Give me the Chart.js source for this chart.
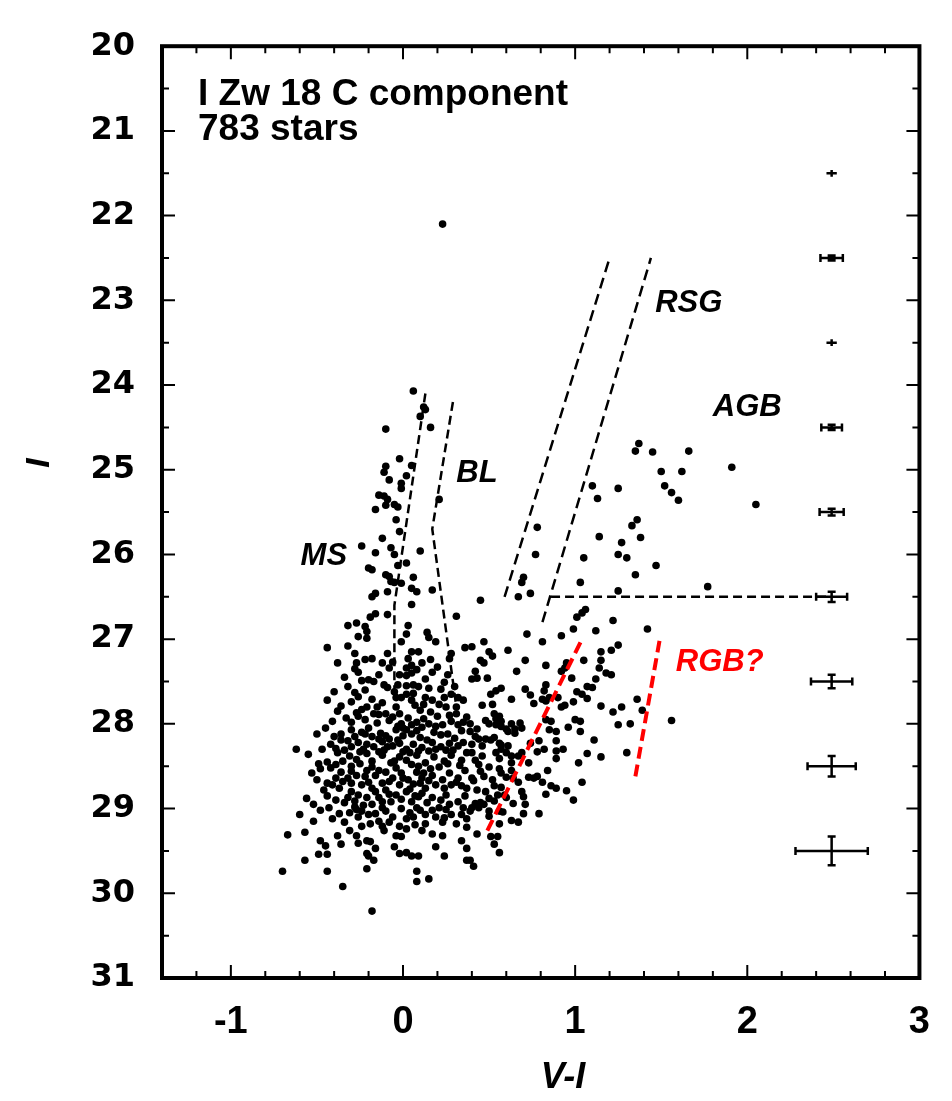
<!DOCTYPE html>
<html>
<head>
<meta charset="utf-8">
<script src="https://cdn.jsdelivr.net/npm/chart.js@4.4.0/dist/chart.umd.min.js"></script>
<style>
html, body { margin: 0; padding: 0; background: #fff; }
</style>
</head>
<body>
<canvas id="cmd" width="952" height="1101"></canvas>
<script>
const xTicks = [-1, 0, 1, 2, 3];
const yTicks = [20, 21, 22, 23, 24, 25, 26, 27, 28, 29, 30, 31];

// stars, [V-I, I]
const msStars = [
  [0.23,22.10],[0.06,24.07],[0.12,24.26],[0.13,24.29],[0.10,24.37],[0.16,24.50],[-0.10,24.52],
  [-0.02,24.87],[0.05,24.95],[-0.10,24.96],[-0.11,25.03],[0.02,25.07],[-0.08,25.12],[-0.01,25.16],
  [-0.01,25.22],[-0.14,25.30],[-0.11,25.31],[-0.09,25.35],[-0.10,25.42],[-0.05,25.41],[-0.03,25.44],
  [-0.16,25.47],[0.21,25.35],[-0.04,25.59],[-0.02,25.73],[-0.12,25.81],[-0.24,25.90],[-0.07,25.92],
  [0.10,25.96],[-0.16,25.98],[-0.05,26.00],[0.02,26.10],[-0.03,26.13],[-0.20,26.16],[-0.18,26.18],
  [-0.10,26.24],[-0.08,26.26],[0.06,26.27],[-0.07,26.32],[-0.05,26.33],[-0.01,26.34],[0.05,26.40],
  [0.17,26.42],[0.08,26.44],[-0.09,26.44],[-0.16,26.46],[-0.18,26.50],[0.45,26.54]
];

const agbStars = [
  [1.37,24.69],[1.35,24.78],[1.45,24.79],[1.66,24.78],[1.50,25.02],[1.62,25.02],[1.91,24.97],
  [1.10,25.19],[1.52,25.19],[1.25,25.22],[1.56,25.27],[1.13,25.34],[1.60,25.36],[2.05,25.41],
  [1.36,25.59],[1.33,25.66],[0.78,25.68],[1.14,25.79],[1.38,25.80],[1.27,25.86],[0.77,26.00],
  [1.25,26.00],[1.05,26.04],[1.30,26.04],[1.47,26.13],[1.35,26.24],[0.70,26.27],[0.69,26.33],
  [1.03,26.33],[1.77,26.38],[1.25,26.43],[0.74,26.46],[0.67,26.50]
];

const wingStars = [
  [1.06,26.65],[1.04,26.69],[1.01,26.74],[1.22,26.78],[0.99,26.88],[1.12,26.90],[1.42,26.88],
  [0.72,26.94],[0.92,26.96],[0.81,27.03],[0.47,27.03],[0.40,27.09],[0.61,27.13],[0.50,27.15],
  [0.52,27.20],[1.15,27.15],[1.21,27.13],[1.25,27.07],[1.05,27.25],[1.15,27.25],[0.71,27.25],
  [0.45,27.25],[0.47,27.28],[0.83,27.31],[0.95,27.28],[0.94,27.34],[0.92,27.38],[1.14,27.34],
  [1.18,27.40],[1.21,27.42],[0.66,27.38],[0.42,27.38],[0.43,27.46],[0.40,27.47],[0.49,27.46],
  [0.98,27.46],[1.12,27.47],[0.83,27.54],[0.82,27.61],[0.57,27.58],[0.54,27.61],[1.07,27.56],
  [1.10,27.57],[1.01,27.62],[1.04,27.65],[1.07,27.70],[0.71,27.59],[0.74,27.66],[0.51,27.65],
  [0.63,27.71],[0.76,27.76],[0.81,27.71],[0.85,27.69],[0.83,27.73],[0.90,27.69],[0.92,27.80],
  [0.94,27.78],[0.99,27.74],[0.46,27.78],[0.52,27.77],[1.15,27.79],[1.27,27.80],[1.22,27.86],
  [1.36,27.71],[1.39,27.84],[1.56,27.96],[1.25,28.01],[1.32,28.00],[1.11,28.19],[0.89,28.20],
  [0.79,28.20],[0.74,28.23],[1.02,28.46],[1.07,28.35],[1.15,28.39],[1.30,28.34],
  [0.53,27.88],[0.54,27.94],[0.56,27.91],[0.57,27.97],[0.54,28.01],[0.57,28.03],[0.60,28.06],
  [0.50,28.00],[0.48,27.96],[0.43,28.06],[0.39,28.00],[0.39,28.09],[0.63,28.00],[0.65,28.06],
  [0.68,27.99],[0.69,28.05],[0.65,28.11],[0.61,28.09],[0.83,27.95],[0.86,27.97],[0.85,28.07],
  [0.89,28.09],[0.96,28.04],[1.00,27.95],[1.03,27.97],[1.03,28.09],
  [0.42,28.15],[0.44,28.18],[0.48,28.18],[0.51,28.19],[0.53,28.16],[0.40,28.24],[0.46,28.26],
  [0.56,28.23],[0.57,28.25],[0.61,28.26],[0.57,28.30],[0.60,28.34],[0.54,28.34],[0.56,28.41],
  [0.46,28.38],[0.40,28.34],[0.42,28.43],[0.63,28.38],[0.63,28.46],[0.82,28.30],[0.78,28.33],
  [0.69,28.34],[0.67,28.38],[0.89,28.32],[0.93,28.30],[0.89,28.41],[0.73,28.46],
  [0.45,28.56],[0.40,28.64],[0.41,28.67],[0.56,28.53],[0.57,28.58],[0.63,28.55],[0.60,28.63],
  [0.64,28.64],[0.67,28.69],[0.73,28.63],[0.76,28.64],[0.78,28.62],[0.81,28.69],[0.84,28.55],
  [1.04,28.69],[0.86,28.73],[0.89,28.76],[0.95,28.79],[0.83,28.83],[0.99,28.90],[0.53,28.73],
  [0.57,28.75],[0.59,28.84],[0.60,28.87],[0.69,28.80],[0.70,28.86],[0.53,28.91],[0.42,28.94],
  [0.45,28.93],[0.47,28.95],[0.40,28.99],[0.44,28.99],[0.39,29.03],[0.64,28.94],[0.71,28.95],
  [0.50,29.03],[0.56,29.03],[0.58,29.04],[0.70,29.06],[0.79,29.06],[0.50,29.09],[0.56,29.18],
  [0.63,29.14],[0.67,29.16],[0.43,29.30],[0.51,29.33],[0.55,29.33],[0.53,29.42],[0.56,29.52],
  [0.39,29.61],[0.41,29.68],
  [0.44,28.48],[0.50,28.51],[0.47,28.62],[0.52,28.66],[0.48,28.80],[0.43,28.78],[0.55,28.84],
  [0.50,28.88]
];

const coreStars = [
  [0.05,26.59],[0.31,26.73],[-0.16,26.70],[-0.19,26.74],[-0.09,26.71],[-0.32,26.84],[-0.27,26.81],
  [-0.22,26.85],[-0.26,26.97],[-0.21,26.99],[-0.21,26.91],[0.03,26.84],[0.02,26.94],[-0.01,27.03],
  [0.14,26.92],[0.15,26.98],[0.19,27.03],[-0.44,27.10],[-0.32,27.08],[-0.28,27.17],[-0.09,27.17],
  [0.05,27.15],[0.09,27.15],[-0.22,27.24],[-0.18,27.23],[-0.27,27.28],[-0.12,27.28],[0.03,27.23],
  [0.05,27.31],[0.02,27.34],[0.08,27.36],[0.05,27.40],[0.02,27.43],[-0.02,27.42],[0.16,27.24],
  [0.17,27.39],[0.28,27.17],[0.27,27.23],[-0.26,27.39],[-0.24,27.49],[-0.20,27.48],[-0.17,27.50],
  [-0.34,27.45],[-0.11,27.54],[-0.09,27.57],[-0.03,27.54],[0.02,27.55],[0.06,27.54],[0.09,27.56],
  [0.24,27.51],[0.22,27.59],[-0.40,27.62],[-0.28,27.63],[-0.26,27.68],[0.02,27.65],[0.05,27.72],
  [-0.01,27.69],[0.06,27.64],[0.13,27.69],[0.12,27.77],[0.17,27.72],[0.21,27.77],[0.24,27.69],
  [0.28,27.65],[0.32,27.69],[0.31,27.80],[0.35,27.72],[-0.18,27.71],[-0.15,27.80],[-0.17,27.88],
  [-0.14,27.89],[-0.10,27.88],[-0.21,27.80],[-0.27,27.87],[-0.24,27.83],[-0.04,27.69],[-0.04,27.80],
  [-0.06,27.92],[-0.02,27.88],[-0.01,28.00],[-0.03,28.03],[0.02,28.07],[0.36,27.10],
  [-0.12,27.75],[0.07,27.78],[-0.30,27.74],[-0.36,27.79],[-0.28,27.35],[-0.14,27.42],[-0.06,27.27],
  [0.13,27.47],[0.20,27.33],[0.26,27.42],[-0.38,27.28],[-0.38,27.85],[-0.33,27.93],[-0.45,28.05],
  [-0.36,28.12],
  [-0.30,28.07],[-0.24,28.10],[-0.20,28.05],[-0.18,28.15],[-0.13,28.11],[-0.08,28.18],[-0.04,28.07],
  [0.00,28.05],[0.05,28.01],[0.08,28.08],[0.11,28.04],[0.15,28.00],[0.19,28.03],[0.23,28.01],
  [0.28,27.97],[0.32,28.01],[0.37,27.92],[0.31,27.88],[0.25,27.80],
  [-0.42,28.24],[-0.39,28.29],[-0.62,28.30],[-0.30,28.27],[-0.26,28.22],[-0.21,28.24],[-0.17,28.27],
  [-0.12,28.21],[-0.06,28.26],[-0.02,28.23],[0.02,28.30],[0.06,28.24],[0.11,28.28],[0.17,28.22],
  [0.22,28.27],[0.27,28.23],[0.32,28.26],[0.37,28.34],
  [-0.31,28.38],[-0.27,28.42],[-0.21,28.35],[-0.18,28.44],[-0.12,28.37],[-0.07,28.46],[-0.02,28.39],
  [0.02,28.43],[0.08,28.37],[0.13,28.46],[0.18,28.39],[0.24,28.44],[0.28,28.37],[0.34,28.43],
  [-0.49,28.47],[-0.44,28.45],[-0.39,28.48],
  [-0.48,28.53],[-0.39,28.64],[-0.46,28.78],[-0.37,28.76],[-0.39,28.90],[-0.56,28.88],[-0.43,28.99],
  [-0.37,29.06],[-0.60,29.07],[-0.57,29.28],[-0.67,29.31],[-0.48,29.38],[-0.45,29.44],[-0.38,29.32],
  [-0.36,29.42],[-0.31,29.26],[-0.57,29.61],[-0.49,29.54],[-0.44,29.54],[-0.44,29.74],[-0.70,29.74],
  [-0.35,29.92],[-0.21,29.71],[-0.18,30.21],[0.08,29.74],[0.08,29.86],[0.15,29.83],[-0.27,29.32],
  [-0.26,29.41],[-0.21,29.38],[-0.19,29.39],[-0.16,29.47],[-0.21,29.53],[-0.20,29.56],[-0.17,29.61],
  [-0.05,29.45],[-0.02,29.53],[0.02,29.52],[0.05,29.56],[0.09,29.56],[0.19,29.45],[0.24,29.56],
  [0.34,29.38],[0.37,29.47],[0.37,29.61],
  [0.23,29.32],[0.17,29.30],[0.11,29.26],[0.13,29.18],[-0.01,29.33],[-0.04,29.32],[0.02,29.24],
  [-0.02,29.21],[-0.11,29.26],[-0.12,29.21],[-0.14,29.15],[-0.20,29.07],[-0.26,29.10],[-0.24,29.21],
  [-0.28,28.98],[-0.27,29.01],[-0.32,28.87],[-0.30,28.80],[-0.32,28.64],[-0.27,28.61],
  [-0.24,28.72],[-0.20,28.69],[-0.16,28.80],[-0.14,28.87],[-0.10,28.78],[-0.07,28.92],[-0.04,28.84],
  [-0.02,28.72],[0.02,28.80],[0.05,28.92],[0.08,28.99],[0.09,28.86],[0.13,28.76],[0.17,28.87],
  [0.21,28.99],[0.25,28.84],[0.28,28.72],[0.32,28.92],[0.34,29.07],[0.28,29.07],[0.31,29.18],
  [0.37,29.22],[0.19,29.10],[0.13,29.07],[0.06,29.10],[0.02,29.12],[-0.06,29.10],[-0.10,29.03],
  [-0.18,28.95],[-0.21,28.87],[-0.21,28.55],[-0.16,28.61],[-0.10,28.57],[-0.06,28.64],[-0.01,28.58],
  [0.03,28.66],[0.08,28.57],[0.11,28.64],[0.17,28.61],[0.23,28.66],[0.27,28.58],[0.32,28.64],
  [0.37,28.76],[-0.36,28.57],
  [-0.22,27.95],[-0.08,27.96],[0.03,27.93],[0.12,27.94],[0.20,27.91],[-0.30,27.98],
  [-0.28,28.15],[-0.14,28.18],[0.00,28.14],[0.10,28.16],[0.22,28.13],[0.30,28.17],[-0.36,28.19],
  [-0.25,28.33],[-0.11,28.31],[0.04,28.34],[0.15,28.32],[0.25,28.31],[-0.38,28.34],
  [-0.30,28.50],[-0.18,28.51],[-0.04,28.52],[0.09,28.50],[0.21,28.51],[0.33,28.49],[-0.42,28.52],
  [-0.30,28.70],[-0.12,28.70],[0.06,28.71],[0.19,28.72],[0.31,28.69],[-0.44,28.70],
  [-0.26,28.84],[-0.08,28.83],[0.11,28.82],[0.22,28.90],[-0.34,28.93],[0.36,28.85],
  [-0.24,29.03],[-0.12,28.99],[-0.01,29.00],[0.10,29.02],[0.25,29.01],[-0.48,29.02],
  [-0.34,29.16],[-0.19,29.18],[0.07,29.19],[0.23,29.16],[-0.08,29.16],
  [-0.41,27.97],[-0.26,27.91],[-0.15,27.99],[0.08,27.98],[0.16,27.86],[0.27,27.90],[0.35,27.98],
  [-0.50,28.12],[-0.40,28.15],[-0.32,28.20],[-0.22,28.12],[-0.10,28.14],[-0.03,28.19],[0.05,28.12],
  [0.14,28.19],[0.18,28.10],[0.26,28.12],[0.34,28.08],
  [-0.55,28.36],[-0.47,28.30],[-0.34,28.31],[-0.23,28.30],[-0.14,28.33],[-0.09,28.27],[0.00,28.33],
  [0.09,28.32],[0.19,28.30],[0.29,28.31],[0.35,28.22],
  [-0.53,28.58],[-0.35,28.44],[-0.25,28.47],[-0.14,28.55],[-0.05,28.44],[0.05,28.48],[0.16,28.53],
  [0.26,28.47],[0.36,28.55],[-0.30,28.56],[0.12,28.58],
  [-0.50,28.66],[-0.41,28.72],[-0.35,28.68],[-0.22,28.62],[-0.08,28.68],[0.00,28.64],[0.10,28.70],
  [0.15,28.67],[0.24,28.76],[0.34,28.73],[-0.18,28.76],[0.04,28.77],
  [-0.52,28.95],[-0.44,28.85],[-0.28,28.91],[-0.12,28.92],[-0.01,28.89],[0.14,28.93],[0.27,28.95],
  [0.35,28.99],[-0.23,28.96],[0.07,28.85],
  [-0.41,29.12],[-0.31,29.05],[-0.16,29.06],[0.04,29.05],[0.17,29.02],[0.24,29.11],[0.37,29.12],
  [-0.52,29.15],
  [-0.32,27.56],[-0.22,27.60],[-0.05,27.62],[0.15,27.58],[0.30,27.56],[-0.44,27.72],[0.10,27.84],
  [-0.08,27.34],[0.11,27.28]
];

// boundary lines
const msLine = [[0.13,24.1],[-0.05,26.6],[-0.05,27.7]];
const blLine = [[0.29,24.2],[0.17,25.7],[0.31,27.8]];
const rsgLeft = [[0.59,26.5],[1.20,22.5]];
const rsgRight = [[0.81,26.8],[1.44,22.5]];
const tipLine = [[0.86,26.5],[2.49,26.5]];
const rgbLeft = [[0.49,29.26],[1.04,27.0]];
const rgbRight = [[1.35,28.62],[1.49,27.02]];

// typical errors
const errMag = [21.5, 22.5, 23.5, 24.5, 25.5, 26.5, 27.5, 28.5, 29.5];
const errColor = [0.03, 0.065, 0.03, 0.06, 0.07, 0.09, 0.12, 0.14, 0.21];
const errI = [0.04, 0.03, 0.04, 0.03, 0.04, 0.06, 0.08, 0.12, 0.17];
const errAt = 2.49;

const labels = [
  {text: 'MS', x: -0.46, y: 26.02, color: '#000'},
  {text: 'BL', x: 0.43, y: 25.04, color: '#000'},
  {text: 'RSG', x: 1.66, y: 23.04, color: '#000'},
  {text: 'AGB', x: 2.00, y: 24.27, color: '#000'},
  {text: 'RGB?', x: 1.84, y: 27.28, color: '#ff0000'}
];

const toXY = arr => arr.map(p => ({x: p[0], y: p[1]}));

function starSet(arr) {
  return {
    type: 'scatter', data: toXY(arr), order: 2,
    pointRadius: 3.8, pointBackgroundColor: '#000', pointBorderWidth: 0
  };
}
function dashSet(arr, color, width, dash) {
  return {
    type: 'line', data: toXY(arr), order: 1,
    borderColor: color, borderWidth: width, borderDash: dash,
    pointRadius: 0, fill: false, tension: 0
  };
}

const frame = {
  id: 'frame',
  afterDraw(chart) {
    const {ctx, chartArea: a, scales: {x, y}} = chart;
    ctx.save();
    ctx.strokeStyle = '#000';
    ctx.lineWidth = 2;
    ctx.beginPath();
    for (let i = 0; i <= 22; i++) {
      const v = -1.4 + i * 0.2;
      const px = x.getPixelForValue(v);
      const len = Math.abs(v - Math.round(v)) < 0.01 ? 13 : 7;
      ctx.moveTo(px, a.bottom); ctx.lineTo(px, a.bottom - len);
      ctx.moveTo(px, a.top); ctx.lineTo(px, a.top + len);
    }
    for (let i = 0; i <= 22; i++) {
      const v = 20 + i * 0.5;
      const py = y.getPixelForValue(v);
      const len = i % 2 === 0 ? 13 : 7;
      ctx.moveTo(a.left, py); ctx.lineTo(a.left + len, py);
      ctx.moveTo(a.right, py); ctx.lineTo(a.right - len, py);
    }
    ctx.stroke();
    ctx.lineWidth = 4;
    ctx.strokeRect(a.left, a.top, a.right - a.left, a.bottom - a.top);
    ctx.restore();
  }
};

const errorBars = {
  id: 'errorBars',
  afterDatasetsDraw(chart) {
    const {ctx, scales: {x, y}} = chart;
    ctx.save();
    ctx.strokeStyle = '#000';
    ctx.lineWidth = 2.5;
    errMag.forEach((m, i) => {
      const cx = x.getPixelForValue(errAt), cy = y.getPixelForValue(m);
      const x0 = x.getPixelForValue(errAt - errColor[i]);
      const x1 = x.getPixelForValue(errAt + errColor[i]);
      const y0 = y.getPixelForValue(m - errI[i]);
      const y1 = y.getPixelForValue(m + errI[i]);
      ctx.beginPath();
      ctx.moveTo(x0, cy); ctx.lineTo(x1, cy);
      ctx.moveTo(cx, y0); ctx.lineTo(cx, y1);
      if (i !== 0 && i !== 2) {
        ctx.moveTo(x0, cy - 4); ctx.lineTo(x0, cy + 4);
        ctx.moveTo(x1, cy - 4); ctx.lineTo(x1, cy + 4);
        ctx.moveTo(cx - 4, y0); ctx.lineTo(cx + 4, y0);
        ctx.moveTo(cx - 4, y1); ctx.lineTo(cx + 4, y1);
      }
      ctx.stroke();
    });
    ctx.restore();
  }
};

const texts = {
  id: 'texts',
  afterDraw(chart) {
    const {ctx, chartArea: a, scales: {x, y}} = chart;
    ctx.save();
    ctx.font = 'italic bold 31px "Liberation Sans", Arial, sans-serif';
    ctx.textAlign = 'center';
    ctx.textBaseline = 'middle';
    labels.forEach(l => {
      ctx.fillStyle = l.color;
      ctx.fillText(l.text, x.getPixelForValue(l.x), y.getPixelForValue(l.y));
    });
    ctx.fillStyle = '#000';
    // axis titles
    ctx.font = 'italic bold 36px "Liberation Sans", Arial, sans-serif';
    ctx.fillText('V-I', 563, 1078);
    ctx.save();
    ctx.translate(40, 463);
    ctx.rotate(-Math.PI / 2);
    ctx.font = 'italic bold 34px "Liberation Sans", Arial, sans-serif';
    ctx.fillText('I', 0, 0);
    ctx.restore();
    ctx.textAlign = 'left';
    ctx.textBaseline = 'alphabetic';
    ctx.font = 'bold 37px "Liberation Sans", Arial, sans-serif';
    ctx.fillText('I Zw 18 C component', a.left + 36, a.top + 59);
    ctx.fillText('783 stars', a.left + 36, a.top + 94);
    ctx.restore();
  }
};

new Chart(document.getElementById('cmd'), {
  data: {
    datasets: [
      starSet(msStars), starSet(agbStars), starSet(wingStars), starSet(coreStars),
      dashSet(msLine, '#000', 2.5, [9, 5]),
      dashSet(blLine, '#000', 2.5, [9, 5]),
      dashSet(rsgLeft, '#000', 2.5, [11, 6]),
      dashSet(rsgRight, '#000', 2.5, [11, 6]),
      dashSet(tipLine, '#000', 2.5, [9, 5]),
      dashSet(rgbLeft, '#ff0000', 4, [12, 6]),
      dashSet(rgbRight, '#ff0000', 4, [12, 6])
    ]
  },
  options: {
    responsive: false,
    animation: false,
    layout: {padding: {top: 22, right: 32, left: 0, bottom: 0}},
    plugins: {legend: {display: false}, tooltip: {enabled: false}},
    scales: {
      x: {
        type: 'linear', min: -1.4, max: 3,
        grid: {display: false, drawTicks: false},
        border: {display: false},
        afterBuildTicks: s => { s.ticks = xTicks.map(v => ({value: v})); },
        afterFit: s => { s.height = 123; },
        ticks: {
          color: '#000', padding: 22, maxRotation: 0,
          font: {family: '"Liberation Sans", Arial, sans-serif', size: 38, weight: 'bold'}
        },
        title: {display: false}
      },
      y: {
        type: 'linear', reverse: true, min: 20, max: 31,
        grid: {display: false, drawTicks: false},
        border: {display: false},
        afterBuildTicks: s => { s.ticks = yTicks.map(v => ({value: v})); },
        afterFit: s => { s.width = 162; },
        ticks: {
          color: '#000', padding: 27,
          font: {family: '"DejaVu Sans", sans-serif', size: 32, weight: 'bold'}
        },
        title: {display: false}
      }
    }
  },
  plugins: [frame, errorBars, texts]
});
</script>
</body>
</html>
